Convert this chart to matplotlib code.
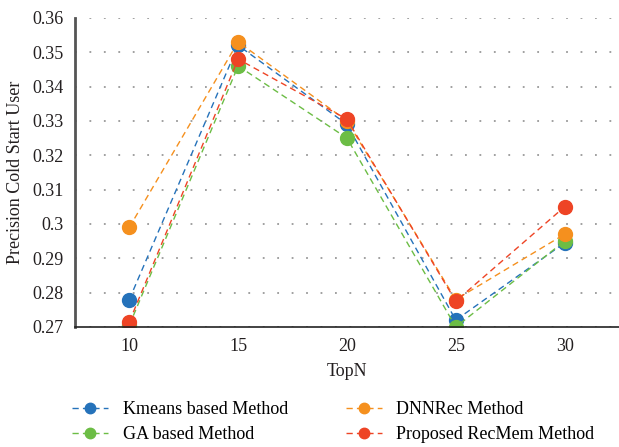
import matplotlib.pyplot as plt
import numpy as np

plt.rcParams['font.family'] = ['Liberation Serif', 'DejaVu Serif']

# TopN values and precision for cold start users
topn = ['10', '15', '20', '25', '30']
kmeans = [0.278, 0.352, 0.329, 0.272, 0.2945]
ga = [0.2705, 0.346, 0.325, 0.270, 0.295]
dnnrec = [0.299, 0.353, 0.330, 0.278, 0.297]
recmem = [0.2715, 0.348, 0.3305, 0.2775, 0.305]
yticks = [0.27, 0.28, 0.29, 0.30, 0.31, 0.32, 0.33, 0.34, 0.35, 0.36]
ytick_labels = ['0.27', '0.28', '0.29', '0.3', '0.31', '0.32', '0.33', '0.34', '0.35', '0.36']

series = [
    ('Kmeans based Method', kmeans, '#2572BA'),
    ('GA based Method', ga, '#6CBD45'),
    ('DNNRec Method', dnnrec, '#F5901E'),
    ('Proposed RecMem Method', recmem, '#EE4425'),
]

fig = plt.figure(figsize=(6.19, 4.47), dpi=100)
ax = fig.add_axes([0.121, 0.2685, 0.879, 0.6915])

x = np.arange(len(topn))
for name, vals, col in series:
    ax.plot(x, vals, linestyle=(0, (4.5, 3)), linewidth=1.0, color=col,
            marker='o', markersize=10, label=name)

ax.set_xlim(-0.5, 4.5)
ax.set_ylim(0.27, 0.36)
ax.set_xticks(x)
ax.set_xticklabels(topn)
ax.set_yticks(yticks)
ax.set_yticklabels(ytick_labels)
ax.tick_params(axis='both', length=0, labelsize=13, colors='#231f20')
ax.tick_params(axis='x', pad=8)
ax.tick_params(axis='y', pad=8)

ax.grid(axis='y', linestyle=(0, (1, 7)), color='#999999', linewidth=1.3)
ax.set_axisbelow(True)
for s in ['top', 'right']:
    ax.spines[s].set_visible(False)
ax.spines['left'].set_color('#555555')
ax.spines['left'].set_linewidth(2)
ax.spines['bottom'].set_color('#222222')
ax.spines['bottom'].set_linewidth(1.2)

ax.set_xlabel('TopN', fontsize=13, color='#231f20', labelpad=6)
ax.set_ylabel('Precision Cold Start User', fontsize=13, color='#231f20', labelpad=6)

fig.legend(loc='upper left', bbox_to_anchor=(0.105, 1 - 394 / 447), ncol=2, frameon=False,
           fontsize=13, handlelength=2.0, handletextpad=0.8, columnspacing=3.2,
           labelspacing=0.45, markerscale=0.75, borderaxespad=0)

fig.savefig('out.png', dpi=100)
